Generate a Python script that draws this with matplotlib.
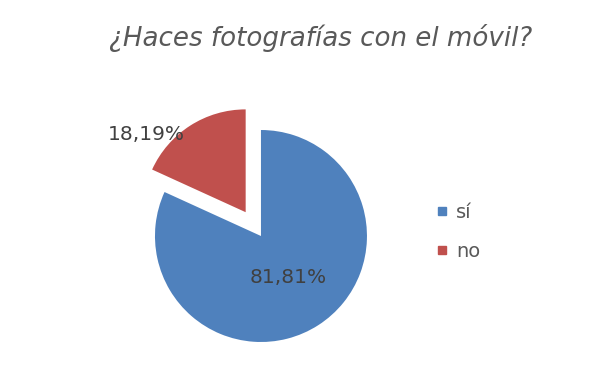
import matplotlib
matplotlib.use("Agg")
import matplotlib.pyplot as plt
from matplotlib.lines import Line2D
import numpy as np

categories = ["sí", "no"]
values = [81.81, 18.19]
labels_txt = ["81,81%", "18,19%"]
colors = ["#4F81BD", "#C0504D"]
title = "¿Haces fotografías con el móvil?"

fig = plt.figure(figsize=(6, 3.77), dpi=100)
fig.patch.set_facecolor("white")

ax = fig.add_axes([0.2053, 0.0085, 0.4593, 0.731])
wedges, _ = ax.pie(values, colors=colors, startangle=90, counterclock=False,
                   explode=[0, 0.267], radius=1.0,
                   wedgeprops=dict(edgecolor="none"))
wedges[1].set_radius(0.97)
ax.set_xlim(-1.3, 1.3)
ax.set_ylim(-1.3, 1.3)
ax.set_aspect("equal")
ax.axis("off")

# percentage labels
ax.text(0.255, -0.387, labels_txt[0], ha="center", va="center", fontsize=14.5, color="#404040")
ax.text(-1.085, 0.962, labels_txt[1], ha="center", va="center", fontsize=14.5, color="#404040")

fig.text(0.535, 0.90, title, ha="center", va="center", fontsize=18.8,
         style="italic", color="#595959")

handles = [Line2D([0], [0], marker="s", linestyle="none", markersize=6,
                  markerfacecolor=c, markeredgecolor=c) for c in colors]
leg = fig.legend(handles, categories, loc="center left", bbox_to_anchor=(0.695, 0.385),
                 frameon=False, fontsize=14, labelspacing=1.0, handletextpad=0.3,
                 handlelength=0.8)
for t in leg.get_texts():
    t.set_color("#595959")

fig.savefig("out.png", dpi=100, facecolor="white")
